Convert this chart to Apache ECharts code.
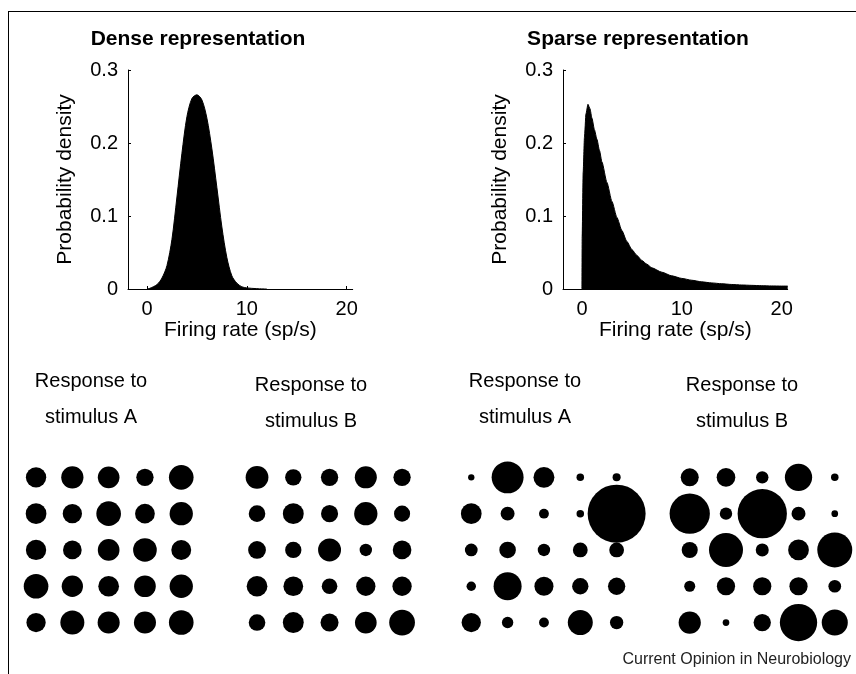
<!DOCTYPE html>
<html>
<head>
<meta charset="utf-8">
<script src="https://cdn.jsdelivr.net/npm/echarts@6/dist/echarts.min.js"></script>
<style>
  html, body { margin: 0; padding: 0; background: #fff; }
  #chart { width: 856px; height: 674px; position: relative; }
  #frame { position: absolute; left: 8px; top: 11px; right: -2px; bottom: -2px;
           border-top: 1.5px solid #000; border-left: 1.5px solid #000; pointer-events: none; }
</style>
</head>
<body>
<div id="chart"></div>
<div id="frame"></div>
<script>
// ---- Histogram data (firing rate sp/s, probability density) ----
const denseRate    = [0, 0.3, 1.0, 1.5, 2.0, 2.5, 3.0, 3.5, 4.0, 4.5, 5.0, 5.5, 6.0, 6.5, 7.0, 7.5, 8.0, 8.5, 9.0, 9.5, 10, 11, 12];
const denseDensity = [0, 0.001, 0.006, 0.015, 0.032, 0.068, 0.126, 0.186, 0.236, 0.261, 0.266, 0.259, 0.234, 0.192, 0.139, 0.085, 0.043, 0.018, 0.008, 0.003, 0.0015, 0.0005, 0];

const sparseRate    = [0, 0.02, 0.12, 0.25, 0.4, 0.6, 0.8, 1.0, 1.25, 1.5, 1.75, 2.0, 2.5, 3.0, 3.5, 4.0, 4.5, 5.0, 5.5, 6.0, 6.5, 7, 8, 9, 10, 11, 12, 13, 14, 15, 16, 17, 18, 19, 20, 20.6];
const sparseDensity = [0, 0.072, 0.16, 0.208, 0.24, 0.253, 0.247, 0.234, 0.218, 0.205, 0.19, 0.174, 0.146, 0.12, 0.098, 0.08, 0.065, 0.054, 0.046, 0.039, 0.034, 0.029, 0.023, 0.018, 0.0145, 0.012, 0.0098, 0.0083, 0.0072, 0.0062, 0.0055, 0.005, 0.0045, 0.0042, 0.004, 0.004];

const xTicks = [0, 10, 20];
const yTicks = [0, 0.1, 0.2, 0.3];

// ---- Population responses (5 x 5 neurons, firing rate sp/s) ----
const denseA = [
  [5.1, 6.1, 5.8, 3.7, 7.5],
  [5.3, 4.6, 7.5, 4.8, 6.7],
  [5.1, 4.3, 5.8, 6.9, 4.9],
  [7.5, 5.6, 5.3, 5.8, 6.7],
  [4.6, 7.1, 6.0, 6.0, 7.5]
];
const denseB = [
  [6.4, 3.3, 3.7, 6.0, 3.7],
  [3.4, 5.4, 3.6, 6.7, 3.2],
  [3.9, 3.3, 6.5, 1.9, 4.3],
  [5.3, 4.8, 3.0, 4.6, 4.6],
  [3.4, 5.4, 4.0, 5.8, 8.2]
];
const sparseA = [
  [0.5, 12.6, 5.4, 0.7, 0.8],
  [5.3, 2.4, 1.2, 0.7, 41.5],
  [2.0, 3.4, 1.9, 2.7, 2.7],
  [1.1, 9.7, 4.5, 3.3, 3.7],
  [4.6, 1.6, 1.2, 7.7, 2.2]
];
const sparseB = [
  [4.0, 4.3, 1.9, 9.2, 0.7],
  [20.0, 1.9, 30.0, 2.4, 0.55],
  [3.2, 14.3, 2.1, 5.3, 15.1],
  [1.5, 4.1, 4.1, 4.1, 2.0],
  [6.1, 0.55, 3.7, 17.2, 8.4]
];

const titles = ['Dense representation', 'Sparse representation'];
const stimLabels = [['Response to', 'stimulus A'], ['Response to', 'stimulus B'], ['Response to', 'stimulus A'], ['Response to', 'stimulus B']];
const yName = 'Probability density';
const xName = 'Firing rate (sp/s)';
const credit = 'Current Opinion in Neurobiology';

// ---------------------------------------------------------------
const FONT = '"Liberation Sans", Arial, Helvetica, sans-serif';
const chart = echarts.init(document.getElementById('chart'), null, { renderer: 'canvas' });

function pairs(xs, ys) { return xs.map((x, i) => [x, ys[i]]); }
function cells(m) {
  const out = [];
  m.forEach((row, r) => row.forEach((v, c) => out.push([c, r, v])));
  return out;
}

const histGrids = [
  { left: 128, top: 70, width: 224.7, height: 219 },
  { left: 563, top: 70, width: 224.7, height: 219 }
];
const dotGrids = [
  { left: 17.9, top: 459.2, width: 181.5, height: 181.5 },
  { left: 238.9, top: 459.2, width: 181.3, height: 181.5 },
  { left: 453.1, top: 459.2, width: 181.7, height: 181.5 },
  { left: 671.6, top: 459.2, width: 181.3, height: 181.5 }
];

const grids = histGrids.concat(dotGrids);
const xAxes = [], yAxes = [], series = [];

histGrids.forEach((g, i) => {
  xAxes.push({
    type: 'value', gridIndex: i, min: -1.9, max: 20.6,
    name: xName, nameLocation: 'middle', nameGap: 27,
    nameTextStyle: { fontFamily: FONT, fontSize: 21, color: '#000' },
    axisLine: { show: true, onZero: false, lineStyle: { color: '#000', width: 1 } },
    axisTick: { show: true, inside: true, length: 3, customValues: xTicks, lineStyle: { color: '#000' } },
    axisLabel: { customValues: xTicks, fontFamily: FONT, fontSize: 20, color: '#000', margin: 10 },
    splitLine: { show: false }
  });
  yAxes.push({
    type: 'value', gridIndex: i, min: 0, max: 0.3, interval: 0.1,
    name: yName, nameLocation: 'middle', nameGap: 52, nameRotate: 90,
    nameTextStyle: { fontFamily: FONT, fontSize: 21, color: '#000' },
    axisLine: { show: true, onZero: false, lineStyle: { color: '#000', width: 1 } },
    axisTick: { show: true, inside: true, length: 3, lineStyle: { color: '#000' } },
    axisLabel: { fontFamily: FONT, fontSize: 20, color: '#000', margin: 10,
      formatter: v => String(Math.round(v * 10) / 10) },
    splitLine: { show: false }
  });
});

series.push({
  type: 'line', xAxisIndex: 0, yAxisIndex: 0, data: pairs(denseRate, denseDensity),
  symbol: 'none', smooth: 0.3, lineStyle: { color: '#000', width: 1 },
  areaStyle: { color: '#000', opacity: 1 }, silent: true, animation: false
});
series.push({
  type: 'line', xAxisIndex: 1, yAxisIndex: 1, data: pairs(sparseRate, sparseDensity),
  symbol: 'none', smooth: 0.2, smoothMonotone: 'x', lineStyle: { color: '#000', width: 1 },
  areaStyle: { color: '#000', opacity: 1 }, silent: true, animation: false
});

[denseA, denseB, sparseA, sparseB].forEach((m, k) => {
  const gi = k + 2;
  xAxes.push({ type: 'value', gridIndex: gi, min: -0.5, max: 4.5, show: false });
  yAxes.push({ type: 'value', gridIndex: gi, min: -0.5, max: 4.5, inverse: true, show: false });
  series.push({
    type: 'scatter', xAxisIndex: gi, yAxisIndex: gi, data: cells(m),
    symbol: 'circle', symbolSize: v => 9 * Math.sqrt(v[2]),
    itemStyle: { color: '#000', opacity: 1 }, silent: true, animation: false
  });
});

const graphics = [];
const titleX = [198, 638];
titles.forEach((t, i) => graphics.push({
  type: 'text', x: titleX[i], y: 39,
  style: { text: t, font: 'bold 21px ' + FONT, fill: '#000', align: 'center', verticalAlign: 'middle' }
}));
const labelX = [91, 311, 525, 742];
const labelY = [[381, 417], [385, 421], [381, 417], [385, 421]];
stimLabels.forEach((lines, i) => lines.forEach((ln, j) => graphics.push({
  type: 'text', x: labelX[i], y: labelY[i][j],
  style: { text: ln, font: '20px ' + FONT, fill: '#000', align: 'center', verticalAlign: 'middle' }
})));
graphics.push({
  type: 'text', x: 851, y: 660,
  style: { text: credit, font: '16px ' + FONT, fill: '#222', align: 'right', verticalAlign: 'middle' }
});

chart.setOption({
  animation: false,
  backgroundColor: '#fff',
  grid: grids,
  xAxis: xAxes,
  yAxis: yAxes,
  series: series,
  graphic: graphics
});
</script>
</body>
</html>
